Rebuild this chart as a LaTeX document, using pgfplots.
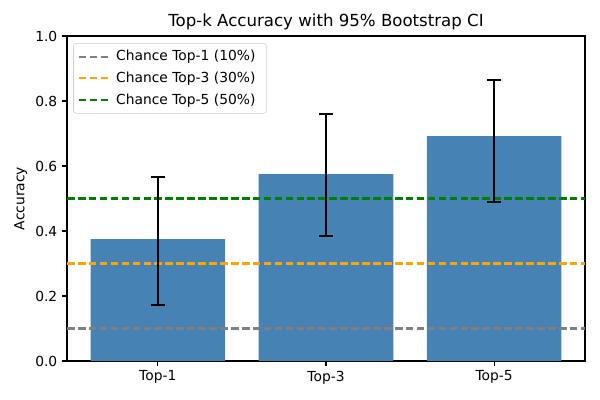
\documentclass[border=0pt]{standalone}
\usepackage{fontspec}
\setmainfont{DejaVu Sans}
\usepackage{pgfplots}
\pgfplotsset{compat=1.18}
\definecolor{steelblue}{HTML}{4682B4}
\definecolor{cgray}{HTML}{808080}
\definecolor{corange}{HTML}{FFA500}
\definecolor{cgreen}{HTML}{008000}
\begin{document}
\begin{tikzpicture}
    \begin{axis}[
        name=ax,
        scale only axis,
        width=5.18in, height=3.25in,
        xmin=-0.54, xmax=2.54,
        ymin=0, ymax=1,
        xtick={0,1,2},
        xticklabels={Top-1,Top-3,Top-5},
        ytick={0,0.2,0.4,0.6,0.8,1.0},
        yticklabel style={/pgf/number format/.cd, fixed, fixed zerofill, precision=1},
        /pgf/number format/assume math mode=true,
        tick align=outside,
        tick pos=left,
        major tick length=3.5pt,
        tick style={black, line width=0.8pt},
        axis line style={line width=0.8pt},
        ylabel={Accuracy},
        ylabel style={xshift=0pt, yshift=-1pt},
        title={Top-k Accuracy with 95\% Bootstrap CI},
        title style={font=\fontsize{12}{14}\selectfont, yshift=-5.5pt},
        ticklabel style={font=\fontsize{10}{12}\selectfont},
        label style={font=\fontsize{10}{12}\selectfont},
        legend style={at={(0.012,0.978)}, anchor=north west, draw=black!20,
            rounded corners=2pt, fill=white, fill opacity=0.8, text opacity=1,
            font=\fontsize{10}{12}\selectfont, row sep=2.6pt,
            inner xsep=3pt, inner ysep=3pt,
            nodes={inner xsep=5pt}},
        legend cell align=left,
        legend image code/.code={\draw[#1] (0cm,0cm) -- (0.75cm,0cm);},
    ]
    % bars
    \addplot[ybar, bar width=0.8, fill=steelblue, draw=none, forget plot] coordinates {
        (0, 0.375)
        (1, 0.575)
        (2, 0.692)
    };
    % chance lines
    \addplot[cgray, line width=1.5pt, dash pattern=on 5.5pt off 2.4pt] coordinates {(-0.54,0.1) (2.54,0.1)};
    \addplot[corange, line width=1.5pt, dash pattern=on 5.5pt off 2.4pt] coordinates {(-0.54,0.3) (2.54,0.3)};
    \addplot[cgreen, line width=1.5pt, dash pattern=on 5.5pt off 2.4pt] coordinates {(-0.54,0.5) (2.54,0.5)};
    % error bars
    \addplot[draw=none, mark=none, forget plot,
        error bars/.cd, y dir=both, y explicit,
        error bar style={draw=black, line width=1.5pt},
        error mark options={rotate=90, mark size=5pt, draw=black, line width=1pt}]
        coordinates {
        (0, 0.375) += (0, 0.191) -= (0, 0.203)
        (1, 0.575) += (0, 0.185) -= (0, 0.190)
        (2, 0.692) += (0, 0.173) -= (0, 0.203)
    };
    \legend{Chance Top-1 (10\%), Chance Top-3 (30\%), Chance Top-5 (50\%)}
    \end{axis}
    \useasboundingbox ([shift={(-0.67in,-0.39in)}]ax.south west) rectangle ([shift={(0.15in,0.36in)}]ax.north east);
\end{tikzpicture}
\end{document}
